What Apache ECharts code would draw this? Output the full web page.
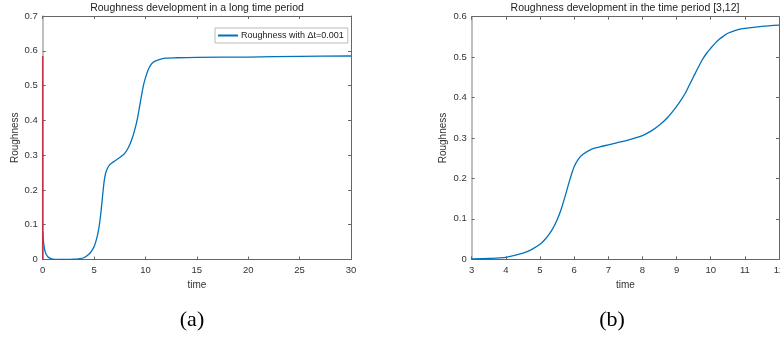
<!DOCTYPE html>
<html><head><meta charset="utf-8">
<script src="https://cdn.jsdelivr.net/npm/echarts@6/dist/echarts.min.js"></script>
<style>html,body{margin:0;padding:0;background:#fff}#c{width:780px;height:338px}</style>
</head><body><div id="c"></div>
<script>
// ---- data ----
const timeEarly = [0, 0.05, 0.1, 0.2, 0.3, 0.5, 0.75, 1, 1.5, 2, 2.5];
const roughEarly = [0.08, 0.06, 0.045, 0.027, 0.017, 0.008, 0.003, 0.001, 0.0002, 0, 0.0003];
const timeMid = [3, 3.5, 4, 4.5, 4.75, 5, 5.125, 5.25, 5.375, 5.5, 5.625, 5.75, 5.875, 6, 6.125, 6.25, 6.5, 6.75, 7, 7.25, 7.5, 7.75, 8, 8.25, 8.5, 8.75, 9, 9.125, 9.25, 9.375, 9.5, 9.625, 9.75, 9.875, 10, 10.125, 10.25, 10.375, 10.5, 10.75, 11, 11.5, 12];
const roughMid = [0.001, 0.002, 0.005, 0.015, 0.024, 0.037, 0.047, 0.06, 0.076, 0.097, 0.125, 0.16, 0.197, 0.229, 0.248, 0.259, 0.272, 0.278, 0.283, 0.288, 0.293, 0.299, 0.306, 0.317, 0.332, 0.352, 0.378, 0.393, 0.41, 0.431, 0.452, 0.473, 0.493, 0.509, 0.522, 0.534, 0.544, 0.552, 0.559, 0.567, 0.571, 0.576, 0.579];
const timeLate = [13, 15, 20, 25, 30];
const roughLate = [0.58, 0.581, 0.582, 0.584, 0.585];
const spikeTime = [0, 0];
const spikeRough = [0, 0.585];
const xTicksA = {min: 0, max: 30, interval: 5};
const yTicksA = {min: 0, max: 0.7, interval: 0.1};
const xTicksB = {min: 3, max: 12, interval: 1};
const yTicksB = {min: 0, max: 0.6, interval: 0.1};
const titleA = 'Roughness development in a long time period';
const titleB = 'Roughness development in the time period [3,12]';
const legendName = 'Roughness with \u0394t=0.001';
const panelA = '(a)', panelB = '(b)';

const zip = (xs, ys) => xs.map((x, i) => [x, ys[i]]);
const dataA = zip(timeEarly.concat(timeMid, timeLate), roughEarly.concat(roughMid, roughLate));
const dataB = zip(timeMid, roughMid);

const FONT = 'Liberation Sans';
const txt = '#333';
const lab = {fontFamily: FONT, fontSize: 9.5, color: txt};
function xAx(g, t, top) {
  return {type: 'value', gridIndex: g, min: t.min, max: t.max, interval: t.interval,
    position: top ? 'top' : 'bottom',
    name: top ? '' : 'time', nameLocation: 'middle', nameGap: 17,
    nameTextStyle: {fontFamily: FONT, fontSize: 10, color: txt},
    axisLine: {show: true, onZero: false, lineStyle: {color: '#666', width: 1}},
    axisTick: {show: true, inside: true, length: 3, lineStyle: {color: '#666'}},
    axisLabel: top ? {show: false} : Object.assign({margin: 6, hideOverlap: false, showMaxLabel: true, showMinLabel: true}, lab),
    splitLine: {show: false}};
}
function yAx(g, t, right, gap) {
  return {type: 'value', gridIndex: g, min: t.min, max: t.max, interval: t.interval,
    position: right ? 'right' : 'left',
    name: right ? '' : 'Roughness', nameLocation: 'middle', nameGap: gap,
    nameTextStyle: {fontFamily: FONT, fontSize: 10, color: txt},
    axisLine: {show: true, onZero: false, lineStyle: {color: right ? '#666' : '#aaa', width: right ? 1 : 1.5}},
    axisTick: {show: true, inside: true, length: 3, lineStyle: {color: '#666'}},
    axisLabel: right ? {show: false} : Object.assign({margin: 5}, lab),
    splitLine: {show: false}};
}
const chart = echarts.init(document.getElementById('c'), null, {renderer: 'canvas'});
const ttl = {fontFamily: FONT, fontSize: 10.5, fontWeight: 'normal', color: '#222'};
const pnl = {fontFamily: 'Liberation Serif', fontSize: 22, fontWeight: 'normal', color: '#000'};
chart.setOption({
  backgroundColor: '#fff',
  animation: false,
  title: [
    {text: titleA, left: 197, top: 3, padding: 0, textAlign: 'center', textStyle: ttl},
    {text: titleB, left: 625, top: 3, padding: 0, textAlign: 'center', textStyle: ttl},
    {text: panelA, left: 192, top: 309, padding: 0, textAlign: 'center', textStyle: pnl},
    {text: panelB, left: 612, top: 309, padding: 0, textAlign: 'center', textStyle: pnl}
  ],
  legend: {data: [{name: legendName, icon: 'rect'}], left: 215, top: 28, itemWidth: 20, itemHeight: 2, itemGap: 4,
    padding: [3, 4, 3, 3], borderColor: '#bbb', borderWidth: 1, backgroundColor: '#fff',
    textStyle: {fontFamily: FONT, fontSize: 9, color: '#222', padding: [0, 0, 0, -2]}},
  grid: [
    {left: 42.7, right: 429, top: 16, bottom: 78.5, outerBoundsMode: 'none', containLabel: false},
    {left: 471.7, right: 1, top: 16.7, bottom: 78.7, outerBoundsMode: 'none', containLabel: false}
  ],
  xAxis: [xAx(0, xTicksA, false), xAx(0, xTicksA, true), xAx(1, xTicksB, false), xAx(1, xTicksB, true)],
  yAxis: [yAx(0, yTicksA, false, 22), yAx(0, yTicksA, true, 0), yAx(1, yTicksB, false, 23), yAx(1, yTicksB, true, 0)],
  series: [
    {name: legendName, type: 'line', xAxisIndex: 0, yAxisIndex: 0, data: dataA, smooth: 0.3, showSymbol: false,
      lineStyle: {color: '#0072BD', width: 1.3}, itemStyle: {color: '#0072BD'}},
    {name: 'spike', type: 'line', xAxisIndex: 0, yAxisIndex: 0, data: zip(spikeTime, spikeRough), showSymbol: false,
      lineStyle: {color: '#C8304A', width: 1.5}, itemStyle: {color: '#C8304A'}},
    {name: 'period', type: 'line', xAxisIndex: 2, yAxisIndex: 2, data: dataB, smooth: 0.3, showSymbol: false,
      lineStyle: {color: '#0072BD', width: 1.3}, itemStyle: {color: '#0072BD'}}
  ]
});
</script></body></html>
